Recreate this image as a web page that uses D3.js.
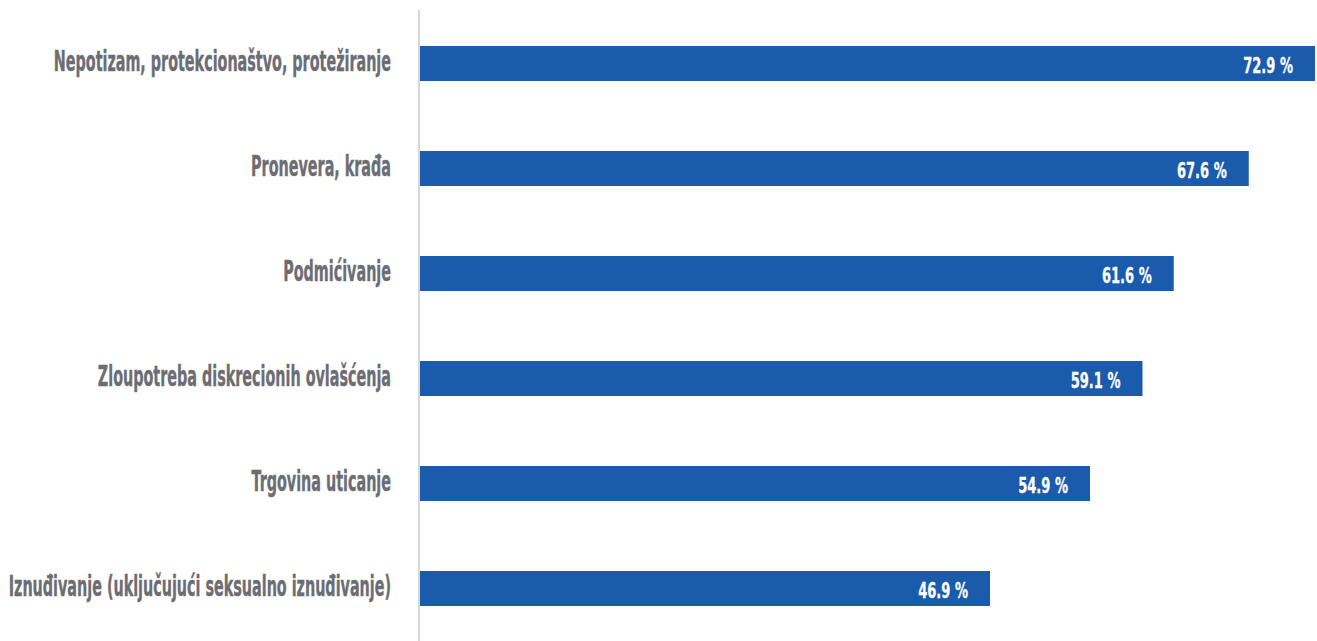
<!DOCTYPE html>
<html>
<head>
<meta charset="utf-8">
<script src="https://cdn.jsdelivr.net/npm/d3@7"></script>
<style>
  html, body { margin: 0; padding: 0; background: #ffffff; }
  svg { display: block; }
  .cat { font-family: "DejaVu Sans Condensed", "DejaVu Sans", sans-serif; font-weight: bold; fill: #6c6d72; stroke: #6c6d72; stroke-width: 0.4; }
  .val { font-family: "DejaVu Sans Condensed", "DejaVu Sans", sans-serif; font-weight: bold; fill: #ffffff; stroke: #ffffff; stroke-width: 0.3; }
</style>
</head>
<body>
<svg id="chart" width="1317" height="641"></svg>
<script>
// Forms of corruption and share of respondents (%)
const categories = [
  "Nepotizam, protekcionaštvo, protežiranje",
  "Pronevera, krađa",
  "Podmićivanje",
  "Zloupotreba diskrecionih ovlašćenja",
  "Trgovina uticanje",
  "Iznuđivanje (uključujući seksualno iznuđivanje)"
];
const values = [72.9, 67.6, 61.6, 59.1, 54.9, 46.9];
const valueLabels = ["72.9 %", "67.6 %", "61.6 %", "59.1 %", "54.9 %", "46.9 %"];
const axisMin = 1.3;
const axisMax = 72.9;

const width = 1317, height = 641;
const margin = { top: 11, right: 2, bottom: 0, left: 420 };

const svg = d3.select("#chart");

const x = d3.scaleLinear()
  .domain([axisMin, axisMax])
  .range([margin.left, width - margin.right]);

const y = d3.scaleBand()
  .domain(categories)
  .range([margin.top, height - margin.bottom])
  .paddingInner(2 / 3)
  .paddingOuter(1 / 3);

// bars
svg.append("g")
  .selectAll("rect")
  .data(values)
  .join("rect")
  .attr("x", x(axisMin))
  .attr("y", (d, i) => y(categories[i]))
  .attr("width", d => x(d) - x(axisMin))
  .attr("height", y.bandwidth())
  .attr("fill", "#1b5bab");

// vertical category axis line
svg.append("line")
  .attr("x1", x(axisMin) - 1).attr("x2", x(axisMin) - 1)
  .attr("y1", margin.top - 1).attr("y2", height)
  .attr("stroke", "#c8c8c8")
  .attr("stroke-width", 1.5);

// category labels (compressed heading style)
const catCondense = 0.57;
svg.append("g")
  .selectAll("text")
  .data(categories)
  .join("text")
  .attr("class", "cat")
  .attr("font-size", 28)
  .attr("text-anchor", "end")
  .attr("transform", d => `translate(${x(axisMin) - 29},${y(d) + y.bandwidth() / 2 + 7}) scale(${catCondense},1)`)
  .text(d => d);

// value labels inside bar ends
const valCondense = 0.66;
svg.append("g")
  .selectAll("text")
  .data(values)
  .join("text")
  .attr("class", "val")
  .attr("font-size", 22)
  .attr("text-anchor", "end")
  .attr("transform", (d, i) => `translate(${x(d) - 22},${y(categories[i]) + y.bandwidth() / 2 + 9}) scale(${valCondense},1)`)
  .text((d, i) => valueLabels[i]);
</script>
</body>
</html>
